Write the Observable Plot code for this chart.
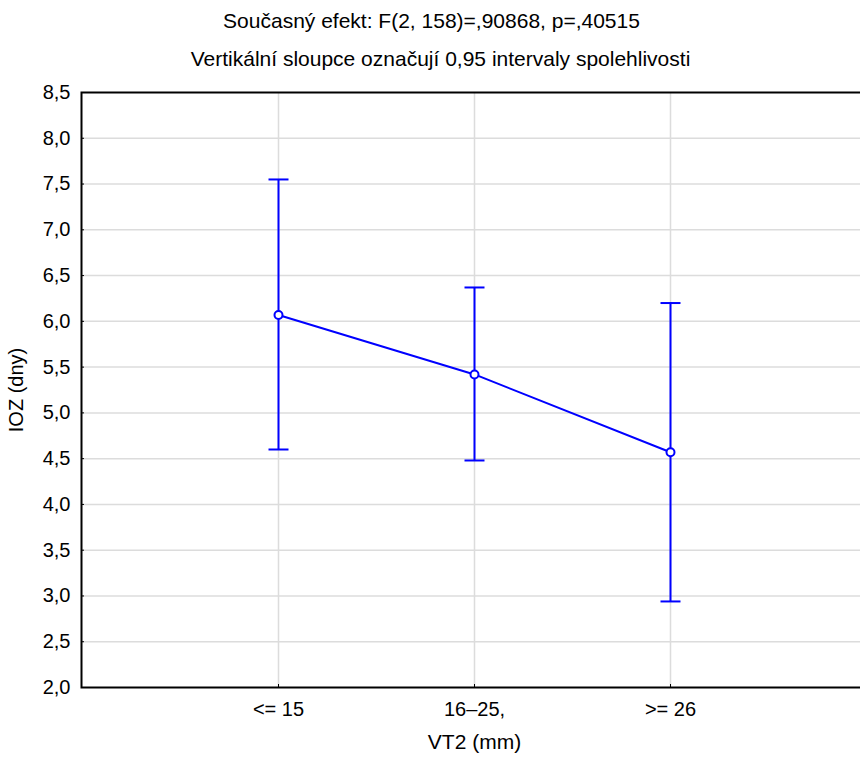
<!DOCTYPE html>
<html><head><meta charset="utf-8">
<script src="https://cdn.jsdelivr.net/npm/d3@7"></script>
<script src="https://cdn.jsdelivr.net/npm/@observablehq/plot@0.6"></script>
<style>
body{margin:0;background:#fff}
svg{font-family:"Liberation Sans",Arial,sans-serif}
</style>
</head><body><div id="chart"></div>
<script>
const categories = ["<= 15", "16–25,", ">= 26"];
const means = [6.07, 5.42, 4.57];
const lower = [4.60, 4.48, 2.94];
const upper = [7.55, 6.37, 6.20];
const yTicks = [2.0, 2.5, 3.0, 3.5, 4.0, 4.5, 5.0, 5.5, 6.0, 6.5, 7.0, 7.5, 8.0, 8.5];
const title1 = "Současný efekt: F(2, 158)=,90868, p=,40515";
const title2 = "Vertikální sloupce označují 0,95 intervaly spolehlivosti";
const xLabel = "VT2 (mm)";
const yLabel = "IOZ (dny)";

const data = categories.map((c, i) => ({cat: c, mean: means[i], lo: lower[i], hi: upper[i]}));
const fmt = d => d.toFixed(1).replace(".", ",");
const blue = "#0000ff";
// horizontal-bar symbol for error bar caps
const capSymbol = {
  draw(ctx, size) {
    const w = Math.sqrt(size / Math.PI);
    ctx.moveTo(-w, 0);
    ctx.lineTo(w, 0);
  }
};

const chart = Plot.plot({
  width: 860, height: 758,
  marginLeft: 81, marginRight: -7, marginTop: 92, marginBottom: 71,
  style: {fontSize: "20px", fontFamily: "'Liberation Sans', Arial, sans-serif", background: "white", color: "black"},
  x: {type: "point", domain: categories, padding: 1},
  y: {domain: [2, 8.5]},
  marks: [
    Plot.gridY(yTicks.filter(t => t > 2 && t < 8.5), {stroke: "#dcdcdc", strokeOpacity: 1, strokeWidth: 1.5}),
    Plot.gridX(categories, {stroke: "#dcdcdc", strokeOpacity: 1, strokeWidth: 1.5}),
    Plot.frame({stroke: "black", strokeWidth: 2}),
    Plot.axisY(yTicks, {tickFormat: fmt, tickSize: -3, tickPadding: 14, label: null, fontSize: 20}),
    Plot.axisX(categories, {tickSize: -3, tickPadding: 17, label: null, fontSize: 20}),
    Plot.ruleX(data, {x: "cat", y1: "lo", y2: "hi", stroke: blue, strokeWidth: 2}),
    Plot.dot(data, {x: "cat", y: "lo", symbol: capSymbol, r: 10, stroke: blue, strokeWidth: 2, fill: "none"}),
    Plot.dot(data, {x: "cat", y: "hi", symbol: capSymbol, r: 10, stroke: blue, strokeWidth: 2, fill: "none"}),
    Plot.line(data, {x: "cat", y: "mean", stroke: blue, strokeWidth: 2}),
    Plot.dot(data, {x: "cat", y: "mean", r: 4, stroke: blue, fill: "white", strokeWidth: 2}),
    Plot.text([title1], {frameAnchor: "top", lineAnchor: "middle", textAnchor: "middle", dy: -71, dx: -43, fontSize: 21}),
    Plot.text([title2], {frameAnchor: "top", lineAnchor: "middle", textAnchor: "middle", dy: -33.5, dx: -34, fontSize: 21}),
    Plot.text([xLabel], {frameAnchor: "bottom", lineAnchor: "middle", textAnchor: "middle", dy: 55, fontSize: 21}),
    Plot.text([yLabel], {frameAnchor: "left", lineAnchor: "middle", textAnchor: "middle", dx: -64.5, rotate: -90, fontSize: 20})
  ]
});
document.getElementById("chart").append(chart);
</script>
</body></html>
